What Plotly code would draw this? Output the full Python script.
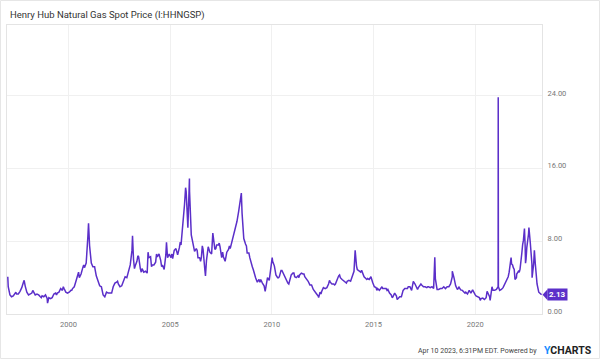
import pandas as pd
import plotly.graph_objects as go

# Monthly Henry Hub spot price readings (mid-month), Jan 1997 .. Mar 2023
monthly_start = "1997-01-01"
monthly_prices = [
    3.0, 2.1, 1.9, 2.0, 2.2, 2.2, 2.2, 2.5, 2.9, 3.5, 3.1, 2.4,      # 1997
    2.1, 2.2, 2.3, 2.4, 2.1, 2.2, 2.1, 1.9, 2.0, 1.9, 2.1, 1.7,      # 1998
    1.8, 1.7, 1.8, 2.2, 2.3, 2.3, 2.4, 2.8, 2.6, 2.8, 2.4, 2.3,      # 1999
    2.4, 2.6, 2.8, 3.0, 3.6, 4.3, 4.0, 4.4, 5.1, 5.1, 5.6, 8.5,      # 2000
    7.5, 5.6, 5.2, 5.2, 4.2, 3.7, 3.1, 3.0, 2.1, 1.9, 2.4, 2.3,      # 2001
    2.3, 2.3, 3.0, 3.4, 3.5, 3.3, 3.0, 3.1, 3.6, 4.1, 4.0, 4.7,      # 2002
    5.4, 7.0, 6.0, 5.3, 5.8, 6.3, 5.0, 5.0, 4.6, 4.7, 4.5, 6.2,      # 2003
    6.3, 5.4, 5.4, 5.7, 6.3, 6.6, 5.9, 5.4, 4.9, 6.5, 6.2, 6.6,      # 2004
    6.2, 6.1, 7.0, 7.2, 6.5, 7.3, 7.6, 9.5, 12.0, 13.5, 9.5, 13.5,   # 2005
    8.7, 7.5, 6.9, 7.2, 6.2, 6.2, 6.2, 7.1, 4.9, 5.9, 7.4, 6.8,      # 2006
    6.6, 8.3, 7.1, 7.6, 7.6, 7.4, 6.2, 6.3, 5.8, 6.8, 7.1, 7.2,      # 2007
    8.0, 8.6, 9.4, 10.2, 11.3, 12.7, 11.1, 8.3, 7.7, 6.7, 6.7, 5.8,  # 2008
    5.2, 4.5, 4.0, 3.5, 3.8, 3.8, 3.4, 3.1, 2.9, 4.0, 3.7, 5.3,      # 2009
    5.8, 5.3, 4.3, 4.0, 4.1, 4.8, 4.6, 4.3, 3.9, 3.4, 3.7, 4.3,      # 2010
    4.5, 4.1, 4.0, 4.2, 4.3, 4.5, 4.4, 4.1, 3.9, 3.6, 3.2, 3.2,      # 2011
    2.7, 2.5, 2.2, 1.95, 2.4, 2.5, 2.9, 2.8, 2.9, 3.3, 3.5, 3.3,     # 2012
    3.3, 3.3, 3.8, 4.2, 4.0, 3.8, 3.6, 3.4, 3.6, 3.7, 3.6, 4.2,      # 2013
    4.7, 6.0, 4.9, 4.7, 4.6, 4.6, 4.1, 3.9, 3.9, 3.8, 4.1, 3.5,      # 2014
    3.0, 2.9, 2.8, 2.6, 2.9, 2.8, 2.8, 2.8, 2.7, 2.3, 2.1, 1.9,      # 2015
    2.3, 2.0, 1.7, 1.9, 1.9, 2.6, 2.8, 2.8, 3.0, 3.0, 2.6, 3.6,      # 2016
    3.3, 2.9, 2.9, 3.1, 3.2, 3.0, 3.0, 2.9, 3.0, 2.9, 3.0, 2.8,      # 2017
    3.9, 2.7, 2.7, 2.8, 2.8, 3.0, 2.8, 3.0, 3.0, 3.3, 4.1, 4.0,      # 2018
    3.1, 2.7, 2.95, 2.65, 2.6, 2.4, 2.4, 2.2, 2.6, 2.3, 2.65, 2.2,   # 2019
    2.0, 1.9, 1.8, 1.7, 1.75, 1.6, 1.8, 2.3, 1.9, 2.4, 2.6, 2.6,     # 2020
    2.7, 3.0, 2.6, 2.7, 2.9, 3.3, 3.8, 4.1, 5.2, 5.5, 5.1, 3.8,      # 2021
    4.4, 4.7, 4.9, 6.6, 8.1, 7.5, 7.3, 8.8, 7.9, 5.5, 5.5, 5.5,      # 2022
    3.3, 2.4, 2.3,                                                   # 2023
]

# Individual daily/weekly readings (spikes and dips)
spike_dates = [
    "1997-01-07", "1997-10-28", "1998-12-22", "2000-12-27", "2003-02-25",
    "2004-10-27", "2005-10-05", "2005-12-13", "2006-09-27", "2007-02-06",
    "2008-07-02", "2009-09-03", "2010-01-07", "2012-04-20", "2014-02-05",
    "2018-01-05", "2018-11-15", "2020-09-25", "2020-10-28", "2021-02-17",
    "2021-02-20", "2021-10-06", "2022-04-20", "2022-06-03", "2022-06-22",
    "2022-08-22", "2022-10-18", "2022-11-28", "2023-04-06",
]
spike_values = [
    4.1, 3.7, 1.2, 9.98, 8.6,
    7.9, 13.9, 14.9, 4.2, 8.9,
    13.3, 2.5, 6.2, 1.82, 7.0,
    6.24, 4.7, 1.5, 3.0, 23.86,
    3.0, 6.2, 7.5, 9.4, 5.6,
    9.5, 4.0, 7.0, 2.13,
]

# Additional start-of-month readings (week-to-week swings)
extra_dates = [
    "1997-06-01", "1998-04-01", "1998-09-01", "1999-06-01", "1999-10-01",
    "2000-03-01", "2000-07-01", "2000-10-01", "2002-06-01", "2002-09-01",
    "2003-04-01", "2003-06-01", "2003-08-01", "2003-12-01", "2004-02-01",
    "2004-05-01", "2004-08-01", "2005-02-01", "2005-05-01", "2005-07-01",
    "2006-03-01", "2006-05-01", "2006-07-01", "2006-08-01", "2007-04-01",
    "2007-06-01", "2007-08-01", "2007-10-01", "2007-12-01", "2008-10-01",
    "2008-12-01", "2009-02-01", "2009-06-01", "2010-03-01", "2010-05-01",
    "2010-07-01", "2010-11-01", "2011-02-01", "2011-05-01", "2011-08-01",
    "2012-06-01", "2012-11-01", "2013-02-01", "2013-05-01", "2013-09-01",
    "2014-03-01", "2014-06-01", "2014-09-01", "2014-12-01", "2015-03-01",
    "2015-06-01", "2015-09-01", "2015-12-01", "2016-03-01", "2016-06-01",
    "2016-09-01", "2016-12-01", "2017-03-01", "2017-05-01", "2017-09-01",
    "2019-03-01", "2019-07-01", "2019-10-01", "2020-01-01", "2020-04-01",
    "2020-07-01", "2020-08-01", "2021-09-01", "2021-11-01", "2021-12-01",
    "2022-01-10", "2022-03-01", "2022-05-01", "2022-07-01", "2022-08-01",
    "2022-09-01", "2023-01-05",
]
extra_values = [
    2.4, 2.6, 1.8, 2.1, 3.0,
    2.6, 4.6, 5.4, 3.6, 3.4,
    5.0, 6.4, 4.6, 6.8, 5.2,
    6.6, 5.2, 6.6, 6.6, 7.9,
    7.4, 7.0, 5.8, 7.5, 7.2,
    7.8, 6.8, 6.3, 7.5, 7.5,
    6.2, 4.9, 3.5, 4.8, 4.0,
    4.8, 3.3, 4.5, 4.0, 4.4,
    2.2, 3.7, 3.2, 4.3, 3.4,
    5.3, 4.8, 3.8, 3.7, 2.6,
    3.0, 2.6, 1.8, 1.6, 2.4,
    2.8, 3.4, 2.7, 3.3, 3.0,
    2.9, 2.3, 2.5, 2.1, 1.5,
    1.7, 2.5, 4.6, 5.4, 4.9,
    4.0, 4.6, 7.6, 6.0, 8.0,
    9.0, 3.6,
]

x_tick_years = [2000, 2005, 2010, 2015, 2020]
y_tick_values = [0, 8, 16, 24]
y_tick_labels = ["0.00", "8.00", "16.00", "24.00"]
x_range = ["1996-12-24", "2023-04-14"]
y_range = [0, 31.8]

title_text = "Henry Hub Natural Gas Spot Price (I:HHNGSP)"
footer_text = "Apr 10 2023, 6:31PM EDT. Powered by"
last_label = "2.13"

LINE = "#5b2fc9"

monthly_dates = pd.date_range(monthly_start, periods=len(monthly_prices), freq="MS") + pd.Timedelta(days=14)
df = pd.concat([
    pd.DataFrame({"date": monthly_dates, "price": monthly_prices}),
    pd.DataFrame({"date": pd.to_datetime(spike_dates), "price": spike_values}),
    pd.DataFrame({"date": pd.to_datetime(extra_dates), "price": extra_values}),
]).sort_values("date").reset_index(drop=True)

fig = go.Figure()
fig.add_trace(go.Scatter(
    x=df["date"], y=df["price"], mode="lines",
    line=dict(color=LINE, width=1.5), hoverinfo="skip",
))

W, H = 600, 359
ML, MR, MT, MB = 7, 58, 25, 45
PW, PH = W - ML - MR, H - MT - MB

def px_x(px):
    return (px - ML) / PW

def px_y(py):
    return (H - MB - py) / PH

fig.update_layout(
    width=W, height=H,
    margin=dict(l=ML, r=MR, t=MT, b=MB),
    paper_bgcolor="white", plot_bgcolor="white",
    showlegend=False,
    font=dict(family="Roboto", color="#777777"),
    xaxis=dict(
        type="date", range=x_range,
        tickvals=[f"{y}-01-01" for y in x_tick_years],
        ticktext=[str(y) for y in x_tick_years],
        showgrid=True, gridcolor="#f0f0f0", gridwidth=1,
        showline=True, linecolor="#e4e4e4", linewidth=1, mirror=True,
        ticks="", zeroline=False, tickfont=dict(size=7.5, color="#777777"),
        ticklabelstandoff=3,
    ),
    yaxis=dict(
        side="right", range=y_range,
        tickvals=y_tick_values, ticktext=y_tick_labels,
        showgrid=True, gridcolor="#f0f0f0", gridwidth=1,
        showline=True, linecolor="#e4e4e4", linewidth=1, mirror=True,
        ticks="", zeroline=False, tickfont=dict(size=7.5, color="#777777"),
        ticklabelstandoff=3, ticklabelshift=-3,
    ),
)

# last value marker
last_date = pd.Timestamp(spike_dates[-1])
x0, x1 = pd.Timestamp(x_range[0]), pd.Timestamp(x_range[1])
xp = (last_date - x0) / (x1 - x0)
yp = (spike_values[-1] - y_range[0]) / (y_range[1] - y_range[0])

annotations = [
    dict(text=title_text, xref="paper", yref="paper", x=px_x(8), y=px_y(15),
         xanchor="left", yanchor="middle", showarrow=False,
         font=dict(size=9.5, color="#333333", family="Roboto")),
    dict(text=footer_text, xref="paper", yref="paper", x=px_x(539), y=px_y(351),
         xanchor="right", yanchor="middle", showarrow=False,
         font=dict(size=7, color="#444444", family="Roboto")),
    dict(text="<b><span style='color:#1a8cff'>Y</span>CHARTS</b>", xref="paper", yref="paper",
         x=px_x(594), y=px_y(350.5), xanchor="right", yanchor="middle", showarrow=False,
         font=dict(size=10.5, color="#222222", family="Roboto")),
    dict(text=f"<b>{last_label}</b>", xref="paper", yref="paper", x=xp, y=yp,
         xanchor="left", yanchor="middle", xshift=5, showarrow=False,
         bgcolor=LINE, borderpad=1, font=dict(size=8, color="white", family="Roboto")),
]
fig.update_layout(annotations=annotations)

fig.add_shape(type="path", xref="paper", yref="paper",
              xsizemode="pixel", ysizemode="pixel", xanchor=xp, yanchor=yp,
              path="M 1 0 L 6 5.5 L 6 -5.5 Z", fillcolor=LINE, line=dict(width=0))
fig.add_shape(type="rect", xref="paper", yref="paper",
              x0=px_x(0.5), x1=px_x(599.5), y0=px_y(358.5), y1=px_y(0.5),
              line=dict(color="#e6e6e6", width=1), fillcolor="rgba(0,0,0,0)", layer="below")

fig.write_html("out.html", config={"displayModeBar": False},
               post_script="document.body.style.margin='0';document.body.style.overflow='hidden';")
